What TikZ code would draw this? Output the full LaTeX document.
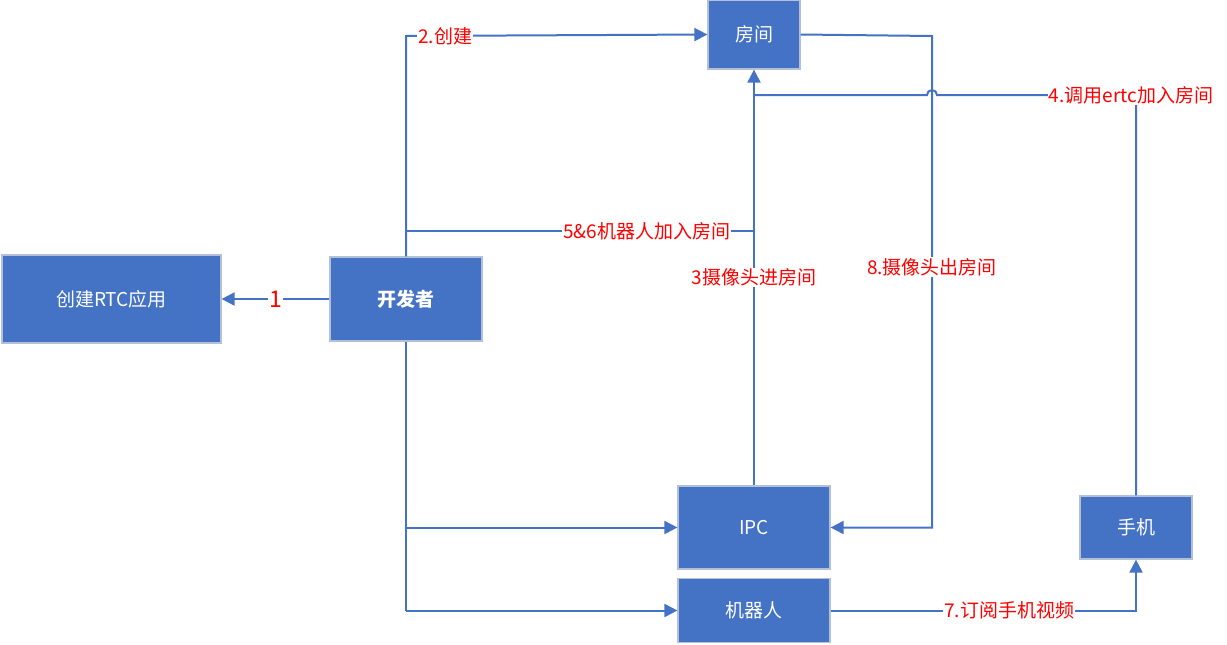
\documentclass[tikz,border=0pt]{standalone}
\usepackage{fontspec}
\setmainfont{Noto Sans CJK SC}
\usetikzlibrary{arrows.meta}
\definecolor{boxblue}{HTML}{4472C4}
\definecolor{boxedge}{HTML}{B4C0D8}
\begin{document}
\begin{tikzpicture}[x=1pt,y=-1pt,
  box/.style={draw=boxedge, line width=1.2pt, fill=boxblue, text=white, font=\fontsize{19}{21}\selectfont, inner sep=0pt, align=center},
  conn/.style={draw=boxblue, line width=2pt, -{Triangle[length=13pt,width=13pt]}},
  plain/.style={draw=boxblue, line width=2pt},
  lbl/.style={fill=white, text=red, font=\fontsize{19}{21}\selectfont, inner sep=1pt}]
\useasboundingbox (0,0) rectangle (1227,645);
% boxes
\node[box, minimum width=92pt, minimum height=69pt] (room) at (754,34.5) {房间};
\node[box, minimum width=219pt, minimum height=88pt] (rtc) at (111.5,299) {创建RTC应用};
\node[box, minimum width=152pt, minimum height=84pt, font=\fontsize{19}{21}\selectfont\bfseries] (dev) at (406,299) {开发者};
\node[box, minimum width=152pt, minimum height=83pt] (ipc) at (754,527.5) {IPC};
\node[box, minimum width=152pt, minimum height=64pt] (robot) at (754,610.5) {机器人};
\node[box, minimum width=112pt, minimum height=63pt] (phone) at (1136,527.5) {手机};
% coordinates
\coordinate (c2) at (406,36);
\coordinate (j56) at (406,231);
\coordinate (k56) at (755,231);
\coordinate (dbot) at (406,610.5);
\coordinate (dipc) at (406,527.5);
\coordinate (r1) at (932,36);
\coordinate (r2) at (932,527.5);
\coordinate (c4) at (1136,95);
\coordinate (l4) at (1131,95);
\coordinate (h1) at (937,95);
\coordinate (h2) at (755,95);
\coordinate (c7) at (1136,610.5);
% connectors
\draw[conn] (dev.west) -- node[lbl, font=\fontsize{23}{25}\selectfont]{1} (rtc.east);
\draw[conn] (dev.north) -- (c2) -- node[lbl, pos=0.13]{2.创建} (room.west);
\draw[plain] (j56) -- node[lbl, pos=0.69]{5\&6机器人加入房间} (k56);
\draw[conn] (ipc.north) -- node[lbl, pos=0.5]{3摄像头进房间} (room.south);
\draw[conn] (room.east) -- (r1) -- node[lbl, pos=0.47]{8.摄像头出房间} (r2) -- (ipc.east);
\draw[plain] (phone.north) -- (c4) -- (h1) arc[start angle=0, end angle=180, radius=5pt] -- (h2);
\node[lbl] at (l4) {4.调用ertc加入房间};
\draw[plain] (dev.south) -- (dbot);
\draw[conn] (dipc) -- (ipc.west);
\draw[conn] (dbot) -- (robot.west);
\draw[conn] (robot.east) -- node[lbl, pos=0.585]{7.订阅手机视频} (c7) -- (phone.south);
\end{tikzpicture}
\end{document}
